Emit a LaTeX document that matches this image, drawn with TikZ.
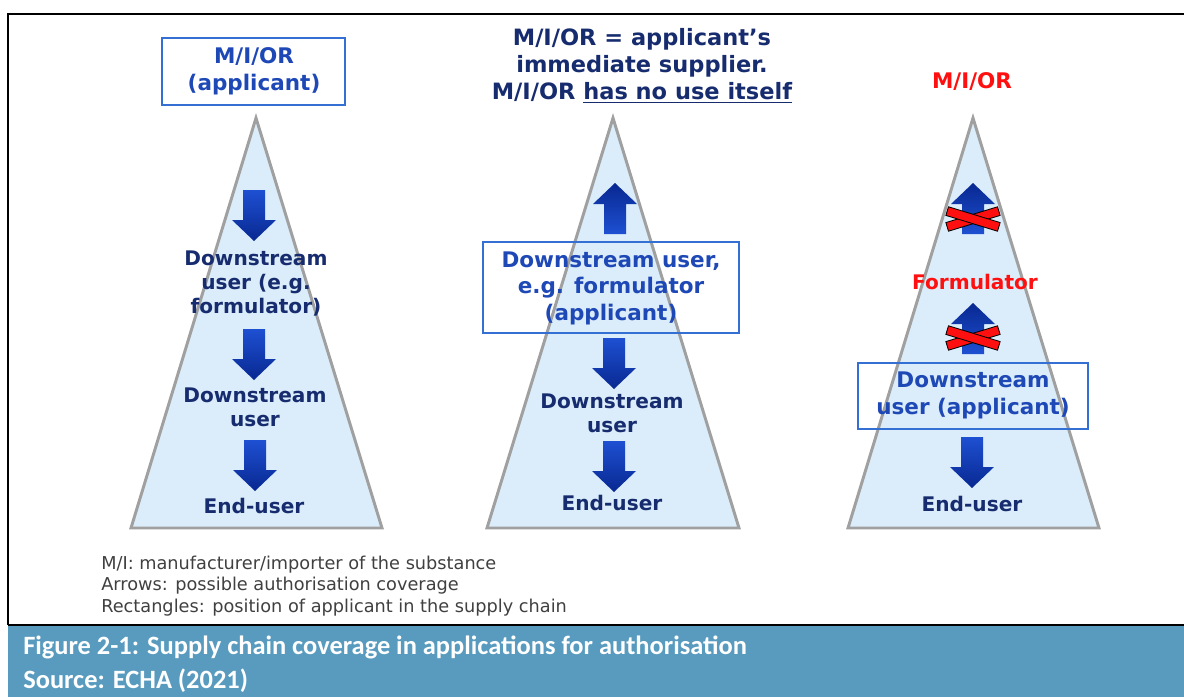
\documentclass[tikz,border=0pt]{standalone}
\usepackage{fontspec}
\setmainfont{DejaVu Sans}
\newfontfamily\capfont{Carlito}
\usetikzlibrary{shapes,arrows}
\definecolor{trifill}{RGB}{219,237,250}
\definecolor{trigray}{RGB}{160,160,160}
\definecolor{boxblue}{RGB}{52,112,212}
\definecolor{navy}{RGB}{22,44,110}
\definecolor{txtblue}{RGB}{30,72,182}
\definecolor{arrtop}{RGB}{30,80,210}
\definecolor{arrbot}{RGB}{8,40,145}
\definecolor{xred}{RGB}{255,16,16}
\definecolor{capblue}{RGB}{88,155,191}
\definecolor{legend}{RGB}{64,64,64}
\tikzstyle{tri} = [draw=trigray, fill=trifill, line width=2.1pt]
\tikzstyle{appbox} = [draw=boxblue, line width=0.8pt]
\tikzstyle{dark} = [text=navy, font=\bfseries\fontsize{14.3}{17.4}\selectfont, align=center, inner sep=0pt]
\tikzstyle{boxtxt} = [text=txtblue, font=\bfseries\fontsize{15.3}{19.2}\selectfont, align=center, inner sep=0pt]
\tikzstyle{redtxt} = [text=xred, font=\bfseries\fontsize{14.3}{17.4}\selectfont, inner sep=0pt]
\tikzstyle{captxt} = [anchor=west, text=white, font=\capfont\bfseries\fontsize{18.8}{22}\selectfont, inner sep=0pt]
\tikzstyle{arrdn} = [top color=arrtop, bottom color=arrbot]
\tikzstyle{arrup} = [top color=arrbot, bottom color=arrtop]
\tikzstyle{cross} = [draw=black, fill=xred, line width=0.6pt]

\begin{document}
\begin{tikzpicture}[x=0.025cm,y=-0.025cm]
	\useasboundingbox (0,0) rectangle (1184,697);
	% frame and caption bar
	\fill[capblue] (8,625) rectangle (1184,697);
	\draw[line width=2pt] (8,625) -- (8,14) -- (1184,14);
	\draw[line width=2pt] (8,625) -- (1184,625);
	\node[captxt] (cap) at (23,647) {Figure 2-1: Supply chain coverage in applications for authorisation};
	\node[captxt] (src) at (23,681) {Source: ECHA (2021)};
	% legend
	\node[anchor=west, text=legend, font=\fontsize{12.6}{15.3}\selectfont, align=left, inner sep=0pt] (legend) at (101,586) {M/I: manufacturer/importer of the substance\\Arrows: possible authorisation coverage\\Rectangles: position of applicant in the supply chain};

	% left: M/I/OR is the applicant
	\draw[tri] (256,118) -- (382,528) -- (131,528) -- cycle;
	\draw[appbox] (162,38) rectangle (345,105);
	\node[boxtxt] (mioL) at (254,71.5) {M/I/OR\\(applicant)};
	\path[arrdn,shift={(254,190)}] (-11,0) -- (11,0) -- (11,30) -- (22,30) -- (0,51) -- (-22,30) -- (-11,30) -- cycle;
	\node[dark] (formL) at (256,283.5) {Downstream\\user (e.g.\\formulator)};
	\path[arrdn,shift={(254,329)}] (-11,0) -- (11,0) -- (11,30) -- (22,30) -- (0,51) -- (-22,30) -- (-11,30) -- cycle;
	\node[dark] (dsuL) at (255,407.5) {Downstream\\user};
	\path[arrdn,shift={(255,440)}] (-11,0) -- (11,0) -- (11,30) -- (22,30) -- (0,51) -- (-22,30) -- (-11,30) -- cycle;
	\node[dark] (endL) at (254,506) {End-user};

	% middle: downstream user is the applicant
	\node[dark, font=\bfseries\fontsize{16}{19.2}\selectfont] (mioM) at (642,66) {M/I/OR = applicant’s\\immediate supplier.\\M/I/OR \underline{has no use itself}};
	\draw[tri] (613,118) -- (739,528) -- (487,528) -- cycle;
	\path[arrup,shift={(615,183)}] (0,0) -- (22,21) -- (11,21) -- (11,51) -- (-11,51) -- (-11,21) -- (-22,21) -- cycle;
	\draw[appbox] (483,242) rectangle (739,333);
	\node[boxtxt, font=\bfseries\fontsize{15.3}{18.9}\selectfont] (formM) at (611,288) {Downstream user,\\e.g. formulator\\(applicant)};
	\path[arrdn,shift={(614,338)}] (-11,0) -- (11,0) -- (11,30) -- (22,30) -- (0,51) -- (-22,30) -- (-11,30) -- cycle;
	\node[dark] (dsuM) at (612,413.5) {Downstream\\user};
	\path[arrdn,shift={(614,441)}] (-11,0) -- (11,0) -- (11,30) -- (22,30) -- (0,51) -- (-22,30) -- (-11,30) -- cycle;
	\node[dark] (endM) at (612,503) {End-user};

	% right: downstream user further down is the applicant
	\node[redtxt, font=\bfseries\fontsize{15.3}{19.2}\selectfont] (mioR) at (972,82) {M/I/OR};
	\draw[tri] (973,118) -- (1099,528) -- (848,528) -- cycle;
	\path[arrup,shift={(973,183)}] (0,0) -- (22,21) -- (11,21) -- (11,51) -- (-11,51) -- (-11,21) -- (-22,21) -- cycle;
	\draw[cross,shift={(973,219)},rotate=17] (-27,-4.5) rectangle (27,4.5);
	\draw[cross,shift={(973,219)},rotate=-17] (-27,-4.5) rectangle (27,4.5);
	\node[redtxt] (formR) at (975,282) {Formulator};
	\path[arrup,shift={(973,303)}] (0,0) -- (22,21) -- (11,21) -- (11,51) -- (-11,51) -- (-11,21) -- (-22,21) -- cycle;
	\draw[cross,shift={(973,338)},rotate=17] (-27,-4.5) rectangle (27,4.5);
	\draw[cross,shift={(973,338)},rotate=-17] (-27,-4.5) rectangle (27,4.5);
	\draw[appbox] (858,363) rectangle (1088,429);
	\node[boxtxt] (dsuR) at (973,395.5) {Downstream\\user (applicant)};
	\path[arrdn,shift={(972,437)}] (-11,0) -- (11,0) -- (11,30) -- (22,30) -- (0,51) -- (-22,30) -- (-11,30) -- cycle;
	\node[dark] (endR) at (972,504) {End-user};
\end{tikzpicture}
\end{document}
